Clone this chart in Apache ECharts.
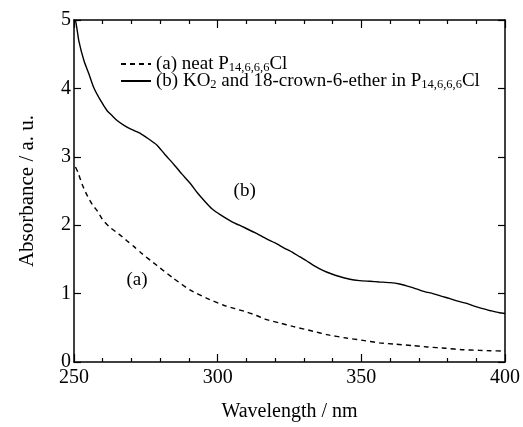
<!DOCTYPE html>
<html>
<head>
<meta charset="utf-8">
<script src="https://cdn.jsdelivr.net/npm/echarts@6/dist/echarts.min.js"></script>
<style>
  html, body { margin: 0; padding: 0; background: #fff; }
  #main { width: 523px; height: 427px; }
</style>
</head>
<body>
<div id="main"></div>
<script>
// (b) KO2 + 18-crown-6-ether in P14,6,6,6Cl
var wavelengthB = [250, 250.6, 251.7, 253.5, 255.2, 256.9, 259.3, 261.6, 263.3, 265, 267.4, 270, 273.2, 276, 278.9,
  281.5, 284.7, 287.5, 290.5, 293, 295.5, 298, 301, 305, 309.1, 313, 317, 320, 323, 326.2,
  328.5, 330.9, 333.5, 336.6, 339.5, 342.4, 346, 349.4, 353, 356.3, 360, 363.3, 366, 369.1, 372, 374.9,
  378, 380.6, 383.5, 386.4, 389, 392.2, 395, 398, 400];
var absorbanceB = [5.0, 4.98, 4.69, 4.40, 4.21, 4.01, 3.82, 3.67, 3.60, 3.53, 3.46, 3.40, 3.34, 3.26, 3.17,
  3.04, 2.89, 2.75, 2.61, 2.47, 2.35, 2.24, 2.15, 2.05, 1.97, 1.89, 1.80, 1.74, 1.67, 1.60,
  1.54, 1.48, 1.41, 1.34, 1.29, 1.25, 1.21, 1.19, 1.18, 1.17, 1.16, 1.14, 1.11, 1.07, 1.03, 1.00,
  0.96, 0.93, 0.89, 0.86, 0.82, 0.78, 0.75, 0.72, 0.71];

// (a) neat P14,6,6,6Cl
var wavelengthA = [250.5, 251.4, 252.9, 254.4, 256.4, 258.1, 259.8, 262.2, 265.6, 268.5, 270.8, 273.2,
  278.9, 284.7, 290.5, 296.3, 302.1,
  306, 310.2, 313.5, 317, 321.6, 326.2, 333.2, 338, 344.8,
  350, 356.3, 362, 367.9, 373, 379.5, 385, 391.1, 395, 400];
var absorbanceA = [2.85, 2.77, 2.59, 2.45, 2.30, 2.21, 2.09, 1.98, 1.87, 1.77, 1.69, 1.60,
  1.41, 1.22, 1.05, 0.93, 0.83,
  0.78, 0.73, 0.68, 0.62, 0.57, 0.52, 0.45, 0.40, 0.35,
  0.32, 0.28, 0.26, 0.24, 0.22, 0.20, 0.18, 0.17, 0.165, 0.16];

var seriesNames = ['(a) neat P14,6,6,6Cl', '(b) KO2 and 18-crown-6-ether in P14,6,6,6Cl'];
var legendRich = {};
legendRich[seriesNames[0]] = '{t|(a) neat P}{s|14,6,6,6}{t|Cl}';
legendRich[seriesNames[1]] = '{t|(b) KO}{s|2}{t| and 18-crown-6-ether in P}{s|14,6,6,6}{t|Cl}';

// curve tags, in data coordinates
var tagA = [271.9, 1.2];
var tagB = [309.4, 2.5];

var xTicks = { min: 250, max: 400, interval: 50 };
var yTicks = { min: 0, max: 5, interval: 1 };

function pairs(xs, ys) {
  return xs.map(function (x, i) { return [x, ys[i]]; });
}

var font = 'Liberation Serif';
var chart = echarts.init(document.getElementById('main'));

function xAx(pos, showLabel) {
  return {
    type: 'value', position: pos,
    min: xTicks.min, max: xTicks.max, interval: xTicks.interval,
    name: showLabel ? 'Wavelength / nm' : '',
    nameLocation: 'middle', nameGap: 40,
    nameTextStyle: { color: '#000', fontFamily: font, fontSize: 20 },
    axisLine: { show: true, onZero: false, lineStyle: { color: '#000', width: 1.5 } },
    axisTick: { show: true, inside: true, length: 8, lineStyle: { color: '#000', width: 1.2 } },
    minorTick: { show: true, splitNumber: 5, length: 4, lineStyle: { color: '#000', width: 1.2 } },
    axisLabel: { show: showLabel, margin: 6, color: '#000', fontFamily: font, fontSize: 20 },
    splitLine: { show: false }
  };
}

function yAx(pos, showLabel) {
  return {
    type: 'value', position: pos,
    min: yTicks.min, max: yTicks.max, interval: yTicks.interval,
    name: showLabel ? 'Absorbance / a. u.' : '',
    nameLocation: 'middle', nameGap: 36,
    nameTextStyle: { color: '#000', fontFamily: font, fontSize: 21 },
    axisLine: { show: true, onZero: false, lineStyle: { color: '#000', width: 1.5 } },
    axisTick: { show: true, inside: true, length: 7, lineStyle: { color: '#000', width: 1.2 } },
    axisLabel: { show: showLabel, margin: 3, color: '#000', fontFamily: font, fontSize: 20 },
    splitLine: { show: false }
  };
}

var option = {
  animation: false,
  backgroundColor: '#fff',
  grid: { left: 74, right: 17, top: 20, bottom: 61 },
  legend: {
    orient: 'vertical', left: 115, top: 49,
    itemWidth: 30, itemHeight: 10, itemGap: -3,
    data: seriesNames.map(function (n) {
      return { name: n, itemStyle: { opacity: 0 } };
    }),
    formatter: function (name) { return legendRich[name]; },
    textStyle: {
      color: '#000', fontFamily: font, fontSize: 19,
      rich: {
        t: { fontFamily: font, fontSize: 19, color: '#000', lineHeight: 17 },
        s: { fontFamily: font, fontSize: 12.5, color: '#000', lineHeight: 10, padding: [7, 0, 0, 0] }
      }
    }
  },
  xAxis: [xAx('bottom', true), xAx('top', false)],
  yAxis: [yAx('left', true), yAx('right', false)],
  series: [
    {
      name: seriesNames[0], type: 'line', xAxisIndex: 0, yAxisIndex: 0,
      data: pairs(wavelengthA, absorbanceA),
      showSymbol: false, symbol: 'none', smooth: 0.2,
      lineStyle: { color: '#000', width: 1.4, type: [5, 4] },
      itemStyle: { color: '#000' },
      markPoint: {
        symbol: 'circle', symbolSize: 0,
        label: { show: true, position: 'inside', formatter: '(a)', color: '#000', fontFamily: font, fontSize: 19 },
        data: [{ coord: tagA }]
      }
    },
    {
      name: seriesNames[1], type: 'line', xAxisIndex: 0, yAxisIndex: 0,
      data: pairs(wavelengthB, absorbanceB),
      showSymbol: false, symbol: 'none', smooth: 0.2,
      lineStyle: { color: '#000', width: 1.4 },
      itemStyle: { color: '#000' },
      markPoint: {
        symbol: 'circle', symbolSize: 0,
        label: { show: true, position: 'inside', formatter: '(b)', color: '#000', fontFamily: font, fontSize: 19 },
        data: [{ coord: tagB }]
      }
    }
  ]
};

chart.setOption(option);
</script>
</body>
</html>
